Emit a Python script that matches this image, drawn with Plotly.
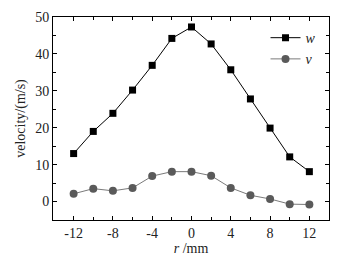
import plotly.graph_objects as go

r = [-12, -10, -8, -6, -4, -2, 0, 2, 4, 6, 8, 10, 12]
w = [13.0, 19.0, 23.9, 30.2, 36.9, 44.2, 47.3, 42.7, 35.7, 27.8, 19.9, 12.1, 8.1]
v = [2.1, 3.5, 2.9, 3.7, 6.9, 8.1, 8.1, 7.0, 3.7, 1.7, 0.7, -0.7, -0.8]
x_ticks = [-12, -8, -4, 0, 4, 8, 12]
x_ticklabels = ["-12", "-8", "-4", "0", "4", "8", "12"]
y_ticks = [0, 10, 20, 30, 40, 50]

font = "Liberation Serif"

fig = go.Figure()
fig.add_trace(go.Scatter(x=r, y=w, name="<i>w</i>", mode="lines+markers",
                         line=dict(color="#000000", width=1),
                         marker=dict(symbol="square", size=7, color="#000000")))
fig.add_trace(go.Scatter(x=r, y=v, name="<i>v</i>", mode="lines+markers",
                         line=dict(color="#7a7a7a", width=1),
                         marker=dict(symbol="circle", size=8, color="#5a5a5a")))

axis_common = dict(showgrid=False, zeroline=False, showline=True, linecolor="#000",
                   linewidth=1, mirror="allticks", ticks="inside", ticklen=4,
                   tickcolor="#000", automargin=False,
                   tickfont=dict(family=font, size=14, color="#222"))

fig.update_xaxes(range=[-14.1, 14], tickvals=x_ticks, ticktext=x_ticklabels,
                 minor=dict(ticks="inside", ticklen=3, dtick=2, tick0=0, tickcolor="#000"),
                 title=dict(text="<i>r</i> /mm", font=dict(family=font, size=14, color="#222"), standoff=2),
                 **axis_common)
fig.update_yaxes(range=[-5, 50], tickvals=y_ticks,
                 minor=dict(ticks="inside", ticklen=3, dtick=5, tick0=0, tickcolor="#000"),
                 title=dict(text="velocity/(m/s)", font=dict(family=font, size=14, color="#222"), standoff=6),
                 **axis_common)

fig.update_layout(width=341, height=262, margin=dict(l=53, r=12, t=17, b=42),
                  plot_bgcolor="white", paper_bgcolor="white",
                  showlegend=True,
                  legend=dict(x=0.77, y=0.975, xanchor="left", yanchor="top",
                              bgcolor="rgba(0,0,0,0)", tracegroupgap=0,
                              font=dict(family=font, size=14, color="#222"),
                              itemwidth=30))

fig.write_html("out.html", config={"displayModeBar": False},
               post_script="document.body.style.margin='0';")
